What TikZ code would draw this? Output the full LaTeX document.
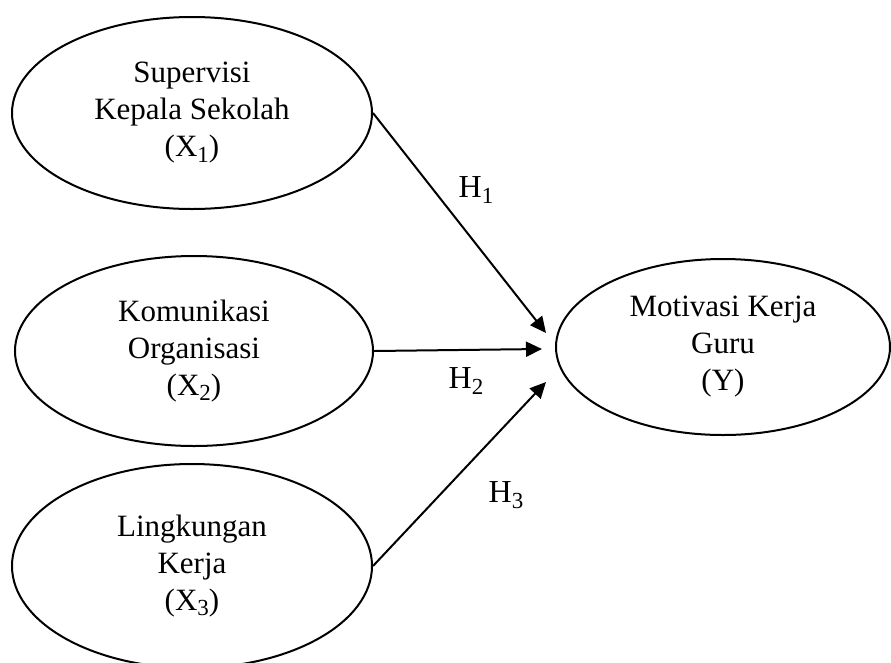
\documentclass[tikz,border=0pt]{standalone}
\usepackage{fontspec}
\setmainfont{Liberation Serif}
\usetikzlibrary{shapes.geometric,arrows.meta}
\newcommand{\lowsub}[1]{\raisebox{-0.17em}{\fontsize{23}{23}\selectfont #1}}
\begin{document}
\begin{tikzpicture}[x=1pt,y=-1pt,
    var/.style={ellipse, draw, line width=2pt, inner sep=0pt, align=center,
                font=\fontsize{31}{37}\selectfont},
    hyp/.style={font=\fontsize{32}{36}\selectfont, inner sep=0pt},
    path/.style={line width=2pt, -{Triangle[length=16pt,width=15pt]}}]
        \useasboundingbox (0,0) rectangle (891,662);
        \draw (192,113) node[var, minimum width=360pt, minimum height=192pt] (x1) {Supervisi\\Kepala Sekolah\\(X\lowsub{1})};
        \draw (194,351) node[var, minimum width=358pt, minimum height=190pt] (x2) {Komunikasi\\Organisasi\\(X\lowsub{2})};
        \draw (192,566) node[var, minimum width=360pt, minimum height=204pt] (x3) {Lingkungan\\Kerja\\(X\lowsub{3})};
        \draw (723,347) node[var, minimum width=334pt, minimum height=176pt] (y) {Motivasi Kerja\\Guru\\(Y)};

        \coordinate (t1) at (546,333);
        \coordinate (t2) at (542,349);
        \coordinate (t3) at (546,382);

        \draw[path] (x1.east) -- (t1);
        \draw[path] (x2.east) -- (t2);
        \draw[path] (x3.east) -- (t3);

        \draw (476,190) node[hyp] (h1) {H\lowsub{1}};
        \draw (466,381) node[hyp] (h2) {H\lowsub{2}};
        \draw (506,495) node[hyp] (h3) {H\lowsub{3}};
    \end{tikzpicture}
\end{document}
